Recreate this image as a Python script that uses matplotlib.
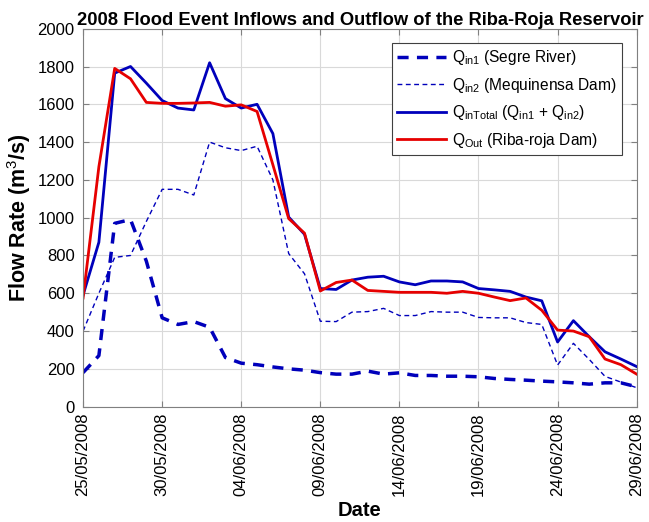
import numpy as np
import pandas as pd
import matplotlib
matplotlib.use('Agg')
import matplotlib.pyplot as plt
import matplotlib.dates as mdates

plt.rcParams['font.family'] = ['Liberation Sans', 'DejaVu Sans']
plt.rcParams['mathtext.fontset'] = 'custom'
plt.rcParams['mathtext.rm'] = 'Liberation Sans'
plt.rcParams['mathtext.it'] = 'Liberation Sans'
plt.rcParams['mathtext.bf'] = 'Liberation Sans:bold'

# daily values, 25/05/2008 .. 29/06/2008
dates = pd.date_range('2008-05-25', '2008-06-29', freq='D')

q_in1 = [180, 270, 970, 990, 770, 470, 435, 450, 420, 260,
         230, 222, 210, 200, 193, 180, 172, 172, 188, 172,
         179, 165, 165, 161, 161, 158, 149, 144, 140, 135,
         131, 126, 119, 126, 126, 105]

q_in2 = [400, 600, 790, 800, 980, 1150, 1150, 1120, 1400, 1370,
         1355, 1378, 1200, 810, 703, 452, 450, 500, 503, 520,
         482, 482, 503, 500, 500, 472, 470, 470, 445, 435,
         220, 335, 250, 160, 130, 100]

q_total = [590, 870, 1765, 1800, 1712, 1620, 1580, 1570, 1820, 1630,
           1580, 1600, 1445, 1003, 912, 625, 620, 670, 685, 690,
           660, 645, 665, 665, 660, 625, 618, 610, 580, 560,
           342, 455, 370, 290, 252, 212]

q_out = [575, 1270, 1790, 1735, 1610, 1605, 1605, 1607, 1610, 1590,
         1597, 1562, 1280, 995, 918, 612, 657, 670, 615, 610,
         605, 605, 605, 600, 610, 600, 580, 561, 575, 510,
         405, 400, 370, 252, 222, 172]

tick_dates = pd.date_range('2008-05-25', '2008-06-29', freq='5D')

blue = '#0000bb'
red = '#e60000'

fig = plt.figure(figsize=(6.49, 5.22), dpi=100)
ax = fig.add_axes([0.128, 0.221, 0.853, 0.724])

ax.plot(dates, q_in1, color=blue, lw=2.5, ls=(0, (3.2, 2.4)),
        label=r'Q$_{\mathrm{in1}}$ (Segre River)')
ax.plot(dates, q_in2, color=blue, lw=1.0, ls=(0, (3.5, 2.5)),
        label=r'Q$_{\mathrm{in2}}$ (Mequinensa Dam)')
ax.plot(dates, q_total, color=blue, lw=2.0,
        label=r'Q$_{\mathrm{inTotal}}$ (Q$_{\mathrm{in1}}$ + Q$_{\mathrm{in2}}$)')
ax.plot(dates, q_out, color=red, lw=2.0,
        label=r'Q$_{\mathrm{Out}}$ (Riba-roja Dam)')

ax.set_xlim(dates[0], dates[-1])
ax.set_ylim(0, 2000)
ax.set_yticks(np.arange(0, 2001, 200))
ax.set_xticks(tick_dates)
ax.xaxis.set_major_formatter(mdates.DateFormatter('%d/%m/%Y'))
plt.setp(ax.get_xticklabels(), rotation=90)

ax.grid(True, color='#d9d9d9', lw=0.8)
ax.set_axisbelow(True)
for s in ax.spines.values():
    s.set_color('#808080')
ax.tick_params(direction='in', top=True, right=True, labelsize=12,
               color='#808080', length=4)
ax.tick_params(axis='y', pad=6)
ax.tick_params(axis='x', pad=4)

ax.set_title('2008 Flood Event Inflows and Outflow of the Riba-Roja Reservoir',
             fontsize=13.2, fontweight='bold', pad=3)
ax.set_ylabel('Flow Rate (m$^3$/s)', fontsize=15.5, fontweight='bold')
ax.yaxis.set_label_coords(-0.09, 0.5)
ax.set_xlabel('Date', fontsize=14.5, fontweight='bold', labelpad=4)

leg = ax.legend(loc='upper right', bbox_to_anchor=(0.973, 0.963), borderaxespad=0,
                fontsize=11.2, fancybox=False, framealpha=1, edgecolor='#404040',
                handlelength=3.1, borderpad=0.35, labelspacing=0.55,
                handletextpad=0.4)
leg.get_frame().set_linewidth(0.8)

fig.savefig('out.png', dpi=100)
